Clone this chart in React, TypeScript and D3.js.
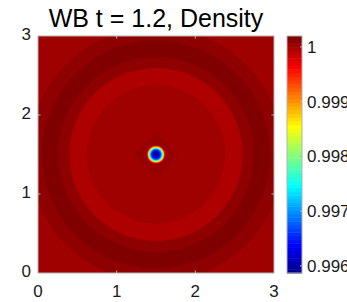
import React from 'react';
import * as d3 from 'd3';

// radial bands of the density field, outer radius (data units) and value
const RING_R = [2.2, 1.62, 1.45, 1.24, 1.1, 0.88];
const RING_RHO = [1.00003, 1.0001, 1.00017, 1.0001, 0.99996, 1.00003];

// the low-density spot in the middle, outer radius and value
const BLOB_R = [0.125, 0.115, 0.108, 0.1, 0.093, 0.086, 0.078, 0.07, 0.062, 0.052, 0.04, 0.025];
const BLOB_RHO = [1.0, 0.99965, 0.9992, 0.9987, 0.9982, 0.99775, 0.9973, 0.9969, 0.99655, 0.9963, 0.9961, 0.996];

const CENTER = [1.5, 1.5];
const STAR_R = 0.28;
const STAR_RHO = 1.0001;

const AXIS_TICKS = [0, 1, 2, 3];
const CBAR_TICKS = [0.996, 0.997, 0.998, 0.999, 1];
const CBAR_LABELS = ['0.996', '0.997', '0.998', '0.999', '1'];
const CLIM = [0.99587, 1.0002];
const TITLE = 'WB t = 1.2, Density';

// matlab jet(m)
function jet(m: number) {
  const n = Math.ceil(m / 4);
  const u: number[] = [];
  for (let i = 1; i <= n; i++) u.push(i / n);
  for (let i = 1; i < n; i++) u.push(1);
  for (let i = n; i >= 1; i--) u.push(i / n);
  const off = Math.ceil(n / 2) - (m % 4 === 1 ? 1 : 0);
  const J = Array.from({ length: m }, () => [0, 0, 0]);
  u.forEach((v, k) => {
    const g = off + k + 1;
    const r = g + n;
    const b = g - n;
    if (g >= 1 && g <= m) J[g - 1][1] = v;
    if (r >= 1 && r <= m) J[r - 1][0] = v;
    if (b >= 1 && b <= m) J[b - 1][2] = v;
  });
  return J.map(c => d3.rgb(c[0] * 255, c[1] * 255, c[2] * 255).formatHex());
}

const W = 347, H = 302;
const L = 38, R = 274, T = 36, B = 273;
const CB_L = 287, CB_R = 302;
const FONT = 'Liberation Sans, Arial, Helvetica, sans-serif';
const FRAME = '#b3b3b3';
const TXT = '#1a1a1a';

export default function App() {
  const x = d3.scaleLinear().domain([0, 3]).range([L, R]);
  const y = d3.scaleLinear().domain([0, 3]).range([B, T]);
  const colors = jet(64);
  const color = d3.scaleQuantize<string>().domain(CLIM).range(colors);
  const yc = d3.scaleLinear().domain(CLIM).range([B, T]);

  const cx = x(CENTER[0]);
  const cy = y(CENTER[1]);
  const rad = (r: number) => x(r) - x(0);

  const sr = rad(STAR_R);
  const star = `M${cx},${cy - sr}L${cx + sr},${cy}L${cx},${cy + sr}L${cx - sr},${cy}Z`;

  return (
    <svg width={W} height={H} style={{ position: 'absolute', left: 0, top: 0, background: '#fff' }} fontFamily={FONT}>
      <defs>
        <clipPath id="plot-clip">
          <rect x={L} y={T} width={R - L} height={B - T} />
        </clipPath>
      </defs>

      <g clipPath="url(#plot-clip)">
        <rect x={L} y={T} width={R - L} height={B - T} fill={color(RING_RHO[0])} />
        {RING_R.map((r, i) => (
          <circle key={'ring' + i} cx={cx} cy={cy} r={rad(r)} fill={color(RING_RHO[i])} />
        ))}
        <path d={star} fill={color(STAR_RHO)} opacity={0.45} />
        {BLOB_R.map((r, i) => (
          <circle key={'blob' + i} cx={cx} cy={cy} r={rad(r)} fill={color(BLOB_RHO[i])} />
        ))}
      </g>

      {/* frame + ticks */}
      <rect x={L} y={T} width={R - L} height={B - T} fill="none" stroke={FRAME} strokeWidth={1} />
      {AXIS_TICKS.slice(1, -1).map(t => (
        <g key={'t' + t} stroke={FRAME}>
          <line x1={x(t)} x2={x(t)} y1={B} y2={B - 2.5} />
          <line x1={x(t)} x2={x(t)} y1={T} y2={T + 2.5} />
          <line x1={L} x2={L + 2.5} y1={y(t)} y2={y(t)} />
          <line x1={R} x2={R - 2.5} y1={y(t)} y2={y(t)} />
        </g>
      ))}
      {AXIS_TICKS.map(t => (
        <text key={'xl' + t} x={x(t)} y={297} textAnchor="middle" fontSize={17} fill={TXT}>{t}</text>
      ))}
      {AXIS_TICKS.map(t => (
        <text key={'yl' + t} x={31} y={y(t) + 4} textAnchor="end" fontSize={17} fill={TXT}>{t}</text>
      ))}

      <text x={(L + R) / 2} y={27} textAnchor="middle" fontSize={25} fill="#000">{TITLE}</text>

      {/* colorbar */}
      {colors.map((c, i) => {
        const [v0, v1] = color.invertExtent(c);
        return <rect key={'cb' + i} x={CB_L} y={yc(v1)} width={CB_R - CB_L} height={yc(v0) - yc(v1) + 0.5} fill={c} />;
      })}
      <rect x={CB_L} y={T} width={CB_R - CB_L} height={B - T} fill="none" stroke={FRAME} />
      {CBAR_TICKS.map((t, i) => (
        <g key={'ct' + t}>
          <line x1={CB_R} x2={CB_R - 2} y1={yc(t)} y2={yc(t)} stroke={FRAME} />
          <text x={307} y={yc(t) + 6} fontSize={17} fill={TXT}>{CBAR_LABELS[i]}</text>
        </g>
      ))}
    </svg>
  );
}
